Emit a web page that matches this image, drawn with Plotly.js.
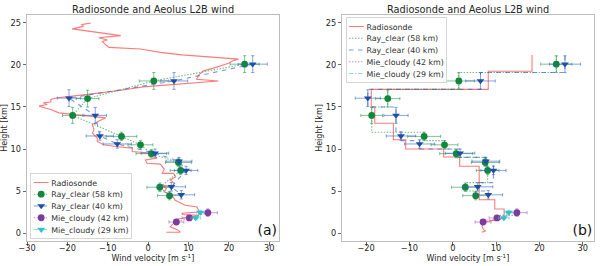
<!DOCTYPE html>
<html>
<head>
<meta charset="utf-8">
<script src="https://cdn.plot.ly/plotly-3.0.1.min.js"></script>
<style>
html,body{margin:0;padding:0;background:#fff;overflow:hidden;width:600px;height:266px;}
#wrap{width:600px;height:266px;overflow:hidden;}
#plot{transform-origin:0 0;}
</style>
</head>
<body>
<div id="wrap"><div id="plot"></div></div>
<script>
// ---------------- DATA ----------------
// Radiosonde profile (left panel, raw)
const sondeHeight = [0.1, 0.1, 0.4, 0.75, 1.35, 1.6, 2.0, 2.1, 2.2, 2.35, 2.5, 2.7, 3.1, 3.3, 3.9, 4.5, 4.9, 5.3, 5.7, 5.5, 5.9, 6.3, 6.7, 7.1, 7.1, 7.6, 8.2, 8.3, 8.7, 8.9, 9.3, 9.5, 9.7, 10.1, 10.3, 10.5, 10.9, 11.3, 11.9, 12.3, 12.9, 13.4, 13.7, 14.0, 14.3, 14.7, 15.1, 15.3, 15.5, 15.6, 15.9, 16.1, 16.5, 17.0, 17.4, 17.6, 18.1, 18.3, 18.8, 19.3, 19.6, 20.2, 20.5, 20.7, 21.2, 21.5, 21.9, 22.1, 22.4, 22.8, 22.98, 23.25, 23.5, 24.3, 24.6, 24.8, 25.0];
const sondeWind   = [4.5, 8.0, 7.2, 5.5, 6.7, 6.5, 11.5, 12.5, 8.5, 8.4, 12.3, 12.5, 12.1, 9.2, 6.7, 5.9, 3.9, 4.5, 3.5, 5.9, 6.5, 5.5, 6.8, 6.3, 3.5, 4.0, 3.0, -0.25, -0.7, 2.2, 1.5, 1.0, -3.95, -3.95, -8.0, -11.0, -12.6, -12.6, -13.8, -13.4, -13.8, -12.0, -10.5, -16.0, -22.1, -24.1, -27.0, -25.0, -26.0, -24.1, -24.1, -22.5, -15.0, -6.7, -1.2, 4.3, 17.4, 12.0, 12.5, 13.7, 16.0, 19.9, 21.0, 22.4, 8.4, 3.0, -1.9, -9.7, -10.5, -11.4, -10.1, -12.2, -6.8, -18.8, -16.0, -16.5, -14.2];

// Radiosonde averaged to bins (right panel)
const sondeBinWind   = [18.3, 8.2, -18.8, -18.0, -13.7, -10.85, -2.1, 1.6, 6.1, 9.7, 11.85];
const sondeBinTop    = [21.2, 19.25, 17.1, 15.0, 13.06, 11.1, 10.0, 9.05, 7.94, 3.96, 2.86];
const sondeBinBottom = [19.25, 17.1, 15.0, 13.06, 11.1, 10.0, 9.05, 7.94, 3.96, 2.86, 1.8];
const sondeLowHeight = [1.65, 1.45, 1.27, 0.8, 0.4, 0.25, 0.1];
const sondeLowWind   = [11.0, 8.5, 7.2, 6.75, 7.1, 7.6, 6.7];

// Aeolus Rayleigh clear (58 km)
const rayHeight58 = [20.1, 18.1, 16.0, 14.0, 11.5, 10.5, 9.45, 8.4, 7.45, 5.45, 4.45];
const rayWind58   = [23.9, 1.4, -15.0, -18.7, -6.6, -1.9, 0.8, 7.5, 8.05, 2.9, 5.3];
const rayErrX58   = [3.6, 3.6, 2.8, 2.5, 3.8, 3.1, 3.8, 3.2, 2.6, 3.2, 3.0];
const rayErrY58   = [1.0, 1.0, 1.0, 0.95, 0.5, 0.5, 0.5, 0.45, 0.5, 0.5, 0.5];

// Aeolus Rayleigh clear (40 km)
const rayHeight40 = [20.1, 18.1, 16.05, 14.0, 11.55, 10.6, 9.5, 8.55, 7.45, 5.5, 4.55];
const rayWind40   = [25.9, 6.4, -19.6, -13.1, -11.95, -7.65, 1.7, 7.65, 9.4, 5.75, 8.2];
const rayErrX40   = [3.6, 3.4, 2.9, 2.8, 3.4, 3.5, 3.4, 3.2, 2.9, 3.5, 3.3];
const rayErrY40   = [1.0, 1.0, 1.0, 0.95, 0.5, 0.5, 0.5, 0.45, 0.5, 0.5, 0.5];

// Bin edges used for step profiles (right panel)
const rayBinTop    = [21.1, 19.1, 17.1, 15.0, 12.0, 11.0, 10.0, 9.0, 8.0, 6.0, 5.0];
const rayBinBottom = [19.1, 17.1, 15.0, 12.0, 11.0, 10.0, 9.0, 8.0, 6.0, 5.0, 4.0];

// Aeolus Mie cloudy (42 km)
const mieHeight42 = [2.42, 1.8, 1.31];
const mieWind42   = [14.8, 10.2, 7.0];
const mieErrX42   = [2.35, 1.8, 1.85];
const mieErrY42   = [0.45, 0.25, 0.3];
const mieBinTop42    = [2.7, 2.1, 1.55];
const mieBinBottom42 = [2.1, 1.55, 1.05];

// Aeolus Mie cloudy (29 km)
const mieHeight29 = [2.46, 1.8];
const mieWind29   = [12.95, 11.8];
const mieErrX29   = [1.0, 1.2];
const mieErrY29   = [0.25, 0.2];
const mieBinTop29    = [2.7, 2.1];
const mieBinBottom29 = [2.1, 1.55];

const xTicksA = [-30, -20, -10, 0, 10, 20, 30];
const xTicksB = [-20, -10, 0, 10, 20, 30];
const yTicks  = [0, 5, 10, 15, 20, 25];

const titleText = 'Radiosonde and Aeolus L2B wind';
const xTitle = 'Wind velocity [m s<sup>-1</sup>]';
const yTitle = 'Height [km]';

// ---------------- STYLE ----------------
const S = 2; // render at 2x then scale down
const FONT = 'DejaVu Sans, sans-serif';
const TXT = '#262626';
const cRed = 'rgba(255,70,70,0.72)';
const cGreen = '#11873a', cGreenL = 'rgba(40,150,70,0.65)';
const cBlue = '#1f4fa3', cBlueL = 'rgba(50,100,200,0.65)';
const cPurp = '#7f3aa0', cPurpL = 'rgba(150,80,180,0.6)';
const cCyan = '#2cc4c8', cCyanL = 'rgba(60,200,200,0.6)';

function steps(vals, tops, bottoms) {
  const xs = [], ys = [];
  for (let i = 0; i < vals.length; i++) {
    xs.push(vals[i], vals[i]);
    ys.push(tops[i], bottoms[i]);
  }
  return {x: xs, y: ys};
}

function errTrace(x, y, ex, ey, name, color, light, symbol, dash, xa, ya, legend, showLine, showleg) {
  return {
    type: 'scatter', mode: showLine ? 'lines+markers' : 'markers',
    x: x, y: y, name: name, xaxis: xa, yaxis: ya, legend: legend, showlegend: showleg,
    line: {color: light, width: 1.1 * S, dash: dash},
    marker: {color: color, size: 6.8 * S, symbol: symbol},
    error_x: {type: 'data', array: ex, visible: true, color: light, thickness: 0.9 * S, width: 1.6 * S},
    error_y: {type: 'data', array: ey, visible: true, color: light, thickness: 0.9 * S, width: 1.6 * S},
    hoverinfo: 'skip'
  };
}

const traces = [];
// Left panel
traces.push({type: 'scatter', mode: 'lines', x: sondeWind, y: sondeHeight, name: 'Radiosonde',
  line: {color: cRed, width: 1.1 * S}, xaxis: 'x', yaxis: 'y', legend: 'legend'});
traces.push(errTrace(rayWind58, rayHeight58, rayErrX58, rayErrY58, 'Ray_clear (58 km)', cGreen, cGreenL, 'circle', 'dot', 'x', 'y', 'legend', true, true));
traces.push(errTrace(rayWind40, rayHeight40, rayErrX40, rayErrY40, 'Ray_clear (40 km)', cBlue, cBlueL, 'triangle-down', 'dash', 'x', 'y', 'legend', true, true));
traces.push(errTrace(mieWind42, mieHeight42, mieErrX42, mieErrY42, 'Mie_cloudy (42 km)', cPurp, cPurpL, 'circle', 'dot', 'x', 'y', 'legend', true, true));
traces.push(errTrace(mieWind29, mieHeight29, mieErrX29, mieErrY29, 'Mie_cloudy (29 km)', cCyan, cCyanL, 'triangle-down', 'dashdot', 'x', 'y', 'legend', true, true));

// Right panel: step profiles
const sSt = steps(sondeBinWind, sondeBinTop, sondeBinBottom);
traces.push({type: 'scatter', mode: 'lines', x: sSt.x.concat(sondeLowWind), y: sSt.y.concat(sondeLowHeight),
  name: 'Radiosonde', line: {color: cRed, width: 1.1 * S}, xaxis: 'x2', yaxis: 'y2', legend: 'legend2'});
const g58 = steps(rayWind58, rayBinTop, rayBinBottom);
traces.push({type: 'scatter', mode: 'lines', x: g58.x, y: g58.y, name: 'Ray_clear (58 km)',
  line: {color: cGreenL, width: 1.1 * S, dash: 'dot'}, xaxis: 'x2', yaxis: 'y2', legend: 'legend2'});
const b40 = steps(rayWind40, rayBinTop, rayBinBottom);
traces.push({type: 'scatter', mode: 'lines', x: b40.x, y: b40.y, name: 'Ray_clear (40 km)',
  line: {color: cBlueL, width: 1.1 * S, dash: 'dash'}, xaxis: 'x2', yaxis: 'y2', legend: 'legend2'});
const p42 = steps(mieWind42, mieBinTop42, mieBinBottom42);
traces.push({type: 'scatter', mode: 'lines', x: p42.x, y: p42.y, name: 'Mie_cloudy (42 km)',
  line: {color: cPurpL, width: 1.1 * S, dash: 'dot'}, xaxis: 'x2', yaxis: 'y2', legend: 'legend2'});
const c29 = steps(mieWind29, mieBinTop29, mieBinBottom29);
traces.push({type: 'scatter', mode: 'lines', x: c29.x, y: c29.y, name: 'Mie_cloudy (29 km)',
  line: {color: cCyanL, width: 1.1 * S, dash: 'dashdot'}, xaxis: 'x2', yaxis: 'y2', legend: 'legend2'});
// Right panel markers
traces.push(errTrace(rayWind58, rayHeight58, rayErrX58, rayErrY58, 'Ray_clear (58 km)', cGreen, cGreenL, 'circle', 'dot', 'x2', 'y2', 'legend2', false, false));
traces.push(errTrace(rayWind40, rayHeight40, rayErrX40, rayErrY40, 'Ray_clear (40 km)', cBlue, cBlueL, 'triangle-down', 'dash', 'x2', 'y2', 'legend2', false, false));
traces.push(errTrace(mieWind42, mieHeight42, mieErrX42, mieErrY42, 'Mie_cloudy (42 km)', cPurp, cPurpL, 'circle', 'dot', 'x2', 'y2', 'legend2', false, false));
traces.push(errTrace(mieWind29, mieHeight29, mieErrX29, mieErrY29, 'Mie_cloudy (29 km)', cCyan, cCyanL, 'triangle-down', 'dashdot', 'x2', 'y2', 'legend2', false, false));

const tickFont = {family: FONT, size: 8.2 * S, color: TXT};
const axTitleFont = {family: FONT, size: 8.0 * S, color: TXT};
function xAxis(domain, range, ticks, anchor) {
  return {domain: domain, range: range, tickvals: ticks, ticktext: ticks.map(t => t < 0 ? '\u2212' + Math.abs(t) : String(t)),
    anchor: anchor, ticks: 'outside', ticklen: 3.5 * S, tickwidth: 0.8 * S, tickcolor: '#444',
    ticklabelstandoff: -4 * S,
    showline: true, mirror: true, linecolor: '#bdbdbd', linewidth: 1 * S, showgrid: false, zeroline: false,
    tickfont: tickFont};
}
function yAxis(anchor) {
  return {domain: [0, 1], range: [-0.95, 25.95], tickvals: yTicks, anchor: anchor,
    ticks: 'outside', ticklen: 3.5 * S, tickwidth: 0.8 * S, tickcolor: '#444',
    showline: true, mirror: true, linecolor: '#bdbdbd', linewidth: 1 * S, showgrid: false, zeroline: false,
    tickfont: tickFont, title: {text: yTitle, font: axTitleFont, standoff: 1.5 * S}};
}

const legendCommon = {font: {family: FONT, size: 7.9 * S, color: '#333'}, bgcolor: 'rgba(255,255,255,0.85)',
  bordercolor: '#cccccc', borderwidth: 0.8 * S, xanchor: 'left', itemwidth: 30, tracegroupgap: 0};

const layout = {
  width: 600 * S, height: 266 * S,
  margin: {l: 27 * S, r: 6 * S, t: 15 * S, b: 25 * S, pad: 0},
  paper_bgcolor: '#fff', plot_bgcolor: '#fff',
  font: {family: FONT, color: TXT},
  showlegend: true,
  xaxis: xAxis([0, 0.4444], [-30, 32.4], xTicksA, 'y'),
  yaxis: yAxis('x'),
  xaxis2: xAxis([0.556, 1], [-25.5, 32.6], xTicksB, 'y2'),
  yaxis2: yAxis('x2'),
  legend: Object.assign({}, legendCommon, {x: 0.006, y: 0.01, yanchor: 'bottom'}),
  legend2: Object.assign({}, legendCommon, {x: 0.562, y: 0.99, yanchor: 'top'}),
  annotations: [
    {text: titleText, xref: 'x domain', yref: 'y domain', x: 0.5, y: 1, yanchor: 'middle', yshift: 5.8 * S, showarrow: false, font: {family: FONT, size: 9.8 * S, color: TXT}},
    {text: titleText, xref: 'x2 domain', yref: 'y2 domain', x: 0.5, y: 1, yanchor: 'middle', yshift: 5.8 * S, showarrow: false, font: {family: FONT, size: 9.8 * S, color: TXT}},
    {text: xTitle, xref: 'x domain', yref: 'y domain', x: 0.5, y: 0, yanchor: 'middle', yshift: -17.2 * S, showarrow: false, font: axTitleFont},
    {text: xTitle, xref: 'x2 domain', yref: 'y2 domain', x: 0.5, y: 0, yanchor: 'middle', yshift: -17.2 * S, showarrow: false, font: axTitleFont},
    {text: '(a)', xref: 'x domain', yref: 'y domain', x: 0.954, y: 0.05, xanchor: 'center', yanchor: 'middle', showarrow: false, font: {family: FONT, size: 14 * S, color: '#111'}},
    {text: '(b)', xref: 'x2 domain', yref: 'y2 domain', x: 0.954, y: 0.05, xanchor: 'center', yanchor: 'middle', showarrow: false, font: {family: FONT, size: 14 * S, color: '#111'}}
  ]
};

const el = document.getElementById('plot');
el.style.transform = 'scale(' + (1 / S) + ')';
Plotly.newPlot(el, traces, layout, {displayModeBar: false, staticPlot: true});
</script>
</body>
</html>
